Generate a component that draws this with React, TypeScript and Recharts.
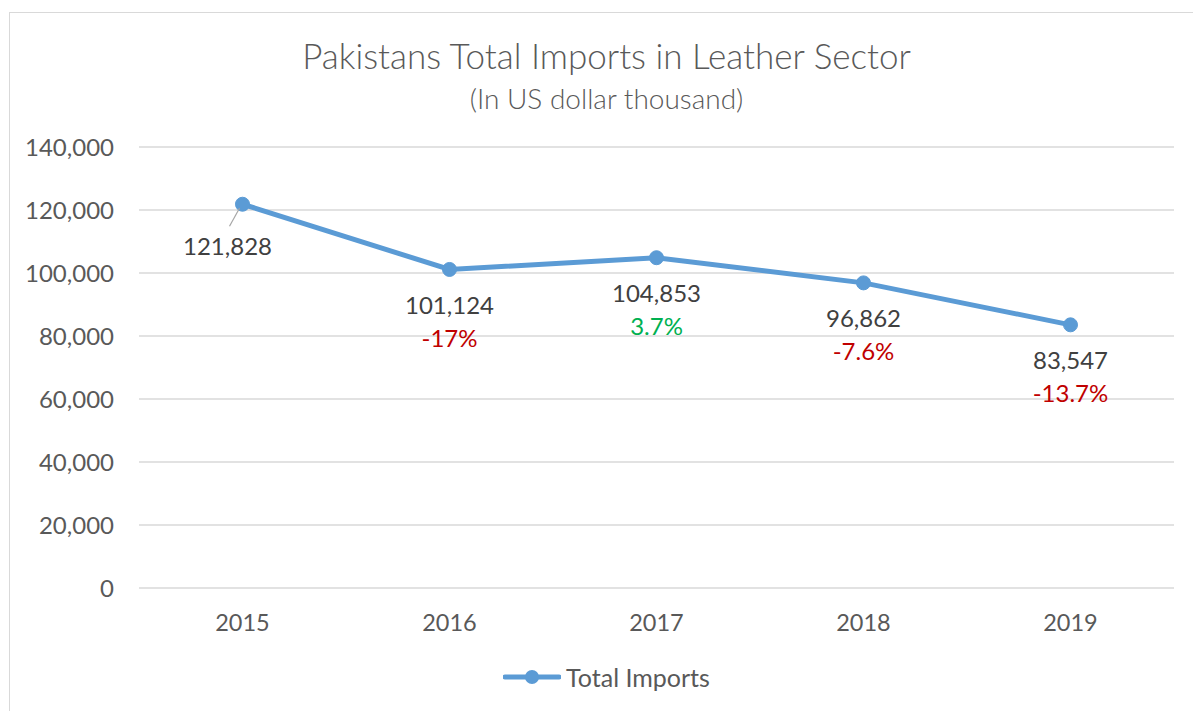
import React from "react";
import { LineChart, Line, XAxis, YAxis, CartesianGrid, LabelList } from "recharts";

const years = ["2015", "2016", "2017", "2018", "2019"];
const imports = [121828, 101124, 104853, 96862, 83547];
const changes = ["", "-17%", "3.7%", "-7.6%", "-13.7%"];
const yTicks = [0, 20000, 40000, 60000, 80000, 100000, 120000, 140000];

const data = years.map((y, i) => ({ year: y, value: imports[i], change: changes[i] }));

const FONT = "Lato, 'Open Sans', sans-serif";
const BLUE = "#5b9bd5";

const fmt = (v: number) => v.toLocaleString("en-US");

const DataLabel = (props: any) => {
  const { x, y, index } = props;
  const d = data[index];
  if (index === 0) {
    return (
      <g>
        <line x1={x - 3} y1={y + 4} x2={x - 13} y2={y + 22} stroke="#a6a6a6" strokeWidth={1.2} />
        <text x={x - 15} y={y + 45} textAnchor="middle" dominantBaseline="middle" fontFamily={FONT} fontSize={24} fill="#404040">
          {fmt(d.value)}
        </text>
      </g>
    );
  }
  const up = !d.change.startsWith("-");
  return (
    <g>
      <text x={x} y={y + 38.5} textAnchor="middle" dominantBaseline="middle" fontFamily={FONT} fontSize={24} fill="#404040">
        {fmt(d.value)}
      </text>
      <text x={x} y={y + 71.5} textAnchor="middle" dominantBaseline="middle" fontFamily={FONT} fontSize={24} fill={up ? "#00b050" : "#c00000"}>
        {d.change}
      </text>
    </g>
  );
};

export default function App() {
  return (
    <div style={{ position: "absolute", left: 0, top: 0, width: 1193, height: 711, background: "#fff", overflow: "hidden" }}>
      <div style={{ position: "absolute", left: 9, top: 12, width: 1210, height: 730, border: "1px solid #d9d9d9", boxSizing: "border-box" }} />
      <div style={{ position: "absolute", left: 0, width: 1213, top: 33, textAlign: "center", fontFamily: FONT, fontWeight: 300, fontSize: 35, color: "#595959", lineHeight: "44px" }}>
        Pakistans Total Imports in Leather Sector
      </div>
      <div style={{ position: "absolute", left: 0, width: 1213, top: 80, textAlign: "center", fontFamily: FONT, fontWeight: 300, fontSize: 28, color: "#595959", lineHeight: "36px" }}>
        (In US dollar thousand)
      </div>
      <div style={{ position: "absolute", left: 0, top: 0 }}>
        <LineChart width={1193} height={711} data={data} margin={{ top: 147, right: 19, bottom: 93, left: 0 }}>
          <CartesianGrid vertical={false} stroke="#d9d9d9" strokeWidth={1.3} />
          <XAxis
            dataKey="year"
            axisLine={false}
            tickLine={false}
            tickSize={0}
            tickMargin={26}
            padding={{ left: 103.5, right: 103.5 }}
            tick={{ fontFamily: FONT, fontSize: 23.5, fill: "#595959" }}
          />
          <YAxis
            width={139}
            domain={[0, 140000]}
            ticks={yTicks}
            tickFormatter={fmt}
            axisLine={false}
            tickLine={false}
            tickSize={0}
            tickMargin={25}
            tick={{ fontFamily: FONT, fontSize: 24, fill: "#595959" }}
          />
          <Line
            type="linear"
            dataKey="value"
            stroke={BLUE}
            strokeWidth={5}
            dot={{ r: 7, fill: BLUE, stroke: BLUE, strokeWidth: 1 }}
            isAnimationActive={false}
          >
            <LabelList dataKey="value" content={<DataLabel />} />
          </Line>
        </LineChart>
      </div>
      <div style={{ position: "absolute", left: 0, width: 1213, top: 662, display: "flex", justifyContent: "center", alignItems: "center" }}>
        <svg width={58} height={20} style={{ marginRight: 5 }}>
          <line x1={2} y1={10} x2={56} y2={10} stroke={BLUE} strokeWidth={5} strokeLinecap="round" />
          <circle cx={29} cy={10} r={7} fill={BLUE} />
        </svg>
        <span style={{ fontFamily: FONT, fontSize: 25, color: "#595959" }}>Total Imports</span>
      </div>
    </div>
  );
}
